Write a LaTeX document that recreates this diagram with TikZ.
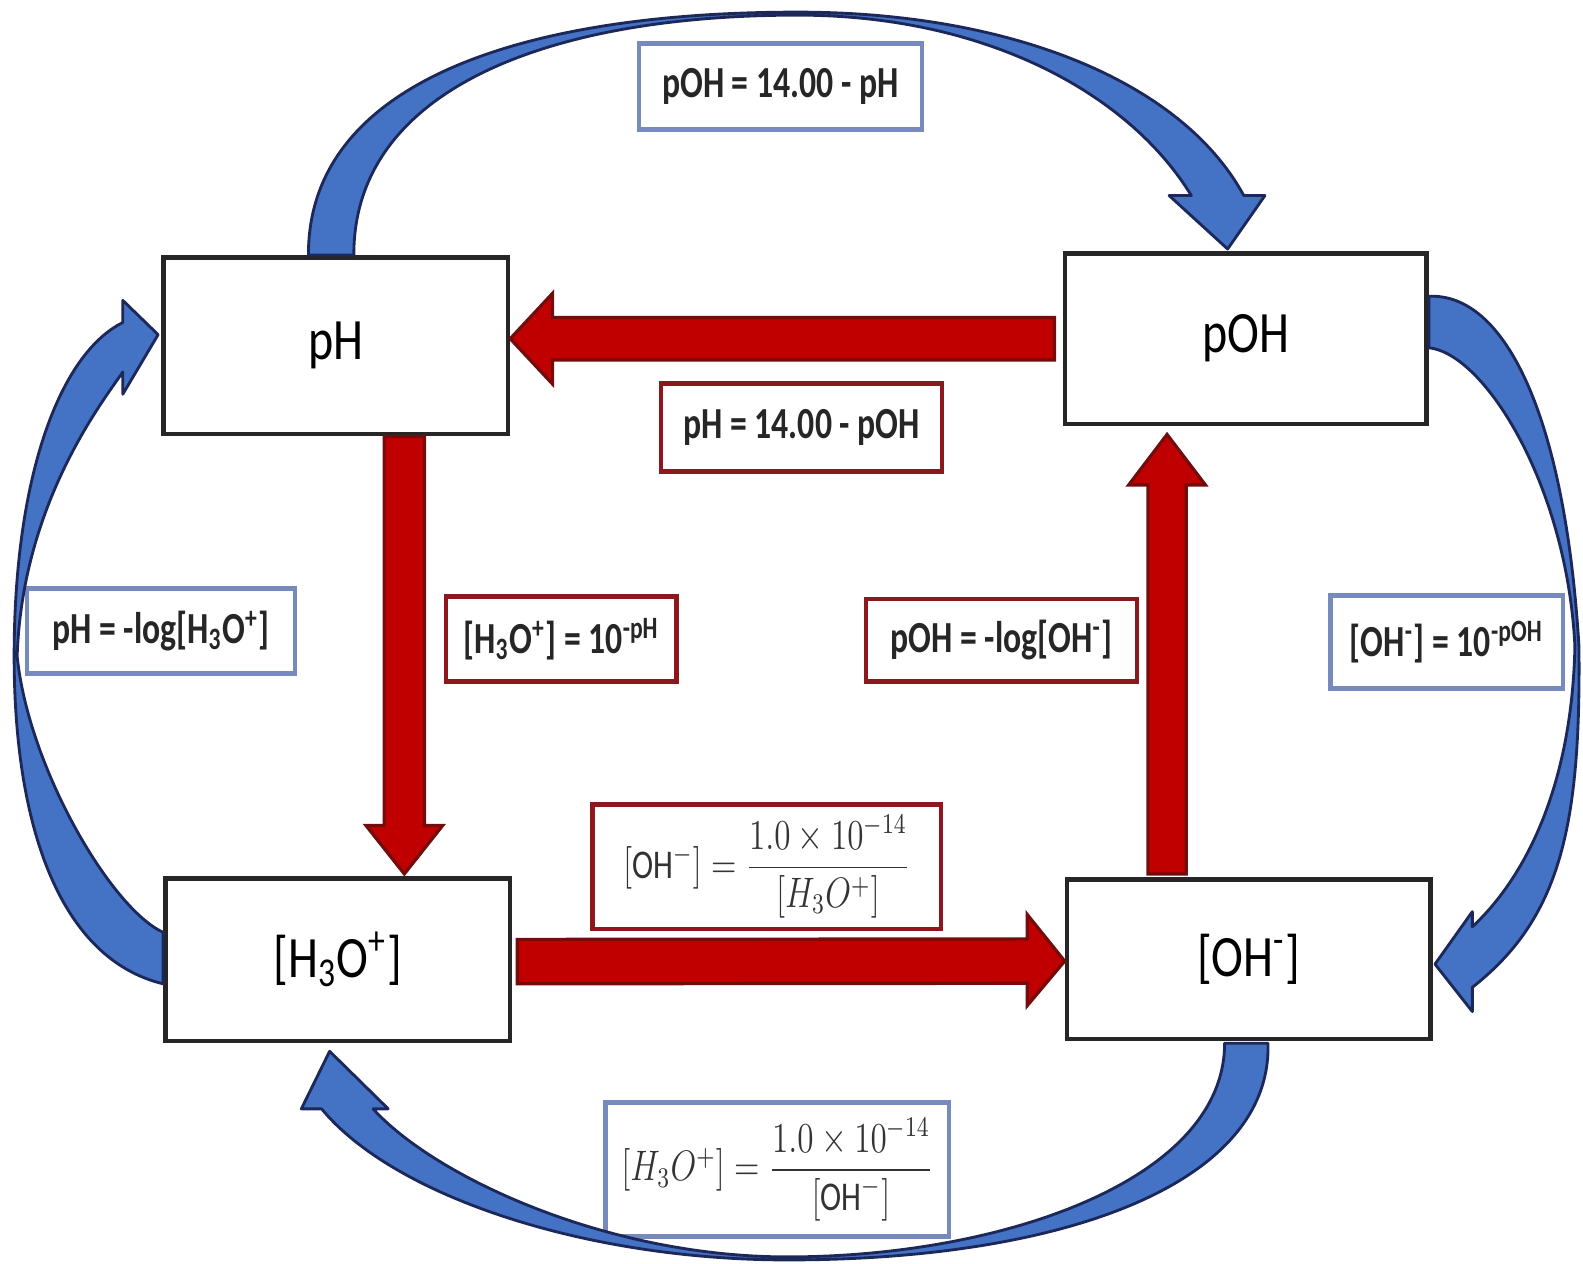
\documentclass[tikz,border=0pt]{standalone}
\usepackage{fontspec}
\usepackage{amsmath}
\usepackage{graphicx}
\setmainfont{Carlito}
\newfontfamily\boxfont{Carlito}[FakeStretch=0.82]
\newfontfamily\lblfont{Carlito}[FakeStretch=0.76]
\usetikzlibrary{calc}

\definecolor{arrowblue}{RGB}{68,114,196}
\definecolor{edgeblue}{RGB}{28,40,90}
\definecolor{arrowred}{RGB}{192,0,0}
\definecolor{edgered}{RGB}{115,12,12}
\definecolor{lblblue}{RGB}{118,138,190}
\definecolor{lblred}{RGB}{140,24,30}

\tikzset{
  conc/.style={draw=black!85, line width=1.3pt, fill=white, inner sep=0pt,
    font=\boxfont\fontsize{16.5}{19}\selectfont},
  bluelbl/.style={draw=lblblue, line width=1.3pt, fill=white, inner sep=0pt, text=black!85,
    font=\lblfont\bfseries\fontsize{12.5}{15}\selectfont},
  redlbl/.style={draw=lblred, line width=1.2pt, fill=white, inner sep=0pt, text=black!85,
    font=\lblfont\bfseries\fontsize{12.5}{15}\selectfont},
  fraclbl/.style={text=black!80, font=\fontsize{11.5}{14}\selectfont},
  bluearrow/.style={fill=arrowblue, draw=edgeblue, line width=0.8pt, line join=round},
  redarrow/.style={fill=arrowred, draw=edgered, line width=0.9pt},
}

\begin{document}
\begin{tikzpicture}[x=0.01cm, y=-0.01cm]
\useasboundingbox (0,0) rectangle (1568,1252);

% the four quantities
\node[conc, minimum width=3.41cm, minimum height=1.75cm] (pH) at (332.5,342.5) {pH};
\node[conc, minimum width=3.58cm, minimum height=1.69cm] (pOH) at (1234,335.5) {pOH};
\node[conc, minimum width=3.41cm, minimum height=1.61cm] (h3o) at (334.5,950.5) {[H\textsubscript{3}O\textsuperscript{+}]};
\node[conc, minimum width=3.60cm, minimum height=1.58cm] (OHm) at (1237,950) {[OH\textsuperscript{-}]};

% outer relations
\node[bluelbl, minimum width=2.80cm, minimum height=0.85cm] (lbTop) at (773,85.5) {pOH = 14.00 - pH};
\node[bluelbl, minimum width=2.65cm, minimum height=0.84cm] (lbLeft) at (159.5,625) {pH = -log[H\textsubscript{3}O\textsuperscript{+}]};
\node[bluelbl, minimum width=2.30cm, minimum height=0.92cm] (lbRight) at (1433,636) {[OH\textsuperscript{-}] = 10\textsuperscript{-pOH}};
\node[bluelbl, fraclbl, minimum width=3.40cm, minimum height=1.33cm] (lbBottom) at (770,1158.5)
  {\scalebox{0.78}[1]{$[H_3O^{+}] = \dfrac{1.0\times10^{-14}}{[\mathrm{OH}^{-}]}$}};

% inner relations
\node[redlbl, minimum width=2.78cm, minimum height=0.87cm] (lbMidTop) at (794,423.5) {pH = 14.00 - pOH};
\node[redlbl, minimum width=2.28cm, minimum height=0.84cm] (lbMidLeft) at (556,633) {[H\textsubscript{3}O\textsuperscript{+}] = 10\textsuperscript{-pH}};
\node[redlbl, minimum width=2.68cm, minimum height=0.82cm] (lbMidRight) at (992,634) {pOH = -log[OH\textsuperscript{-}]};
\node[redlbl, fraclbl, minimum width=3.45cm, minimum height=1.23cm] (lbMidBot) at (759.5,858.5)
  {\scalebox{0.78}[1]{$[\mathrm{OH}^{-}] = \dfrac{1.0\times10^{-14}}{[H_3O^{+}]}$}};

% red block arrows
\draw[redarrow] (pH.east |- pOH.west) -- ++(42,-45) -- ++(0,24) -- ($(pOH.west)+(-8,-21)$)
  -- ++(0,42) -- ($(pH.east |- pOH.west)+(42,21)$) -- ++(0,24) -- cycle;
\draw[redarrow] ($(h3o.north)+(66,-2)$) -- ++(-38,-48) -- ++(18,0) -- ($(pH.south)+(48,0)$)
  -- ++(40,0) -- ($(h3o.north)+(86,-50)$) -- ++(18,0) -- cycle;
\draw[redarrow] ($(OHm.west)+(0,2)$) -- ++(-37,-46) -- ++(0,24) -- ($(h3o.east)+(5,-20)$)
  -- ++(0,44) -- ($(OHm.west)+(-37,24)$) -- ++(0,22) -- cycle;
\draw[redarrow] ($(pOH.south)+(-78,8)$) -- ++(-38,50) -- ++(19,0) -- ($(OHm.north)+(-100,-3)$)
  -- ++(38,0) -- ($(pOH.south)+(-59,58)$) -- ++(19,0) -- cycle;

% blue curved arrows
\draw[bluearrow] ($(pH.north)+(-27,0)$) .. controls (305,80) and (520,12) .. (790,12)
  .. controls (1000,12) and (1170,80) .. ($(pOH.north)+(-2,-55)$) -- ++(21,0)
  -- ($(pOH.north)+(-18,-2)$) -- ++(-58,-53) -- ++(22,0)
  .. controls (1120,95) and (980,15) .. (790,15)
  .. controls (540,15) and (350,90) .. ($(pH.north)+(18,0)$) -- cycle;
\draw[bluearrow] ($(pOH.east)+(0,-42)$) .. controls (1490,290) and (1550,410) .. (1564,640)
  .. controls (1566,820) and (1545,910) .. ($(OHm.east)+(39,28)$) -- ++(0,24)
  -- ($(OHm.east)+(2,5)$) -- ++(37,-52) -- ++(0,15)
  .. controls (1510,870) and (1557,780) .. (1560,640)
  .. controls (1552,480) and (1470,350) .. ($(pOH.east)+(0,9)$) -- cycle;
\draw[bluearrow] ($(OHm.south)+(19,2)$) .. controls (1260,1170) and (1060,1248) .. (780,1248)
  .. controls (580,1248) and (390,1185) .. ($(h3o.south)+(-16,65)$) -- ++(-20,0)
  -- ($(h3o.south)+(-8,8)$) -- ++(58,57) -- ++(-15,0)
  .. controls (430,1165) and (600,1245) .. (780,1245)
  .. controls (990,1245) and (1213,1170) .. ($(OHm.south)+(-24,2)$) -- cycle;
\draw[bluearrow] ($(h3o.west)+(0,24)$) .. controls (60,950) and (14,820) .. (14,650)
  .. controls (14,470) and (60,350) .. ($(pH.west)+(-38,-23)$) -- ++(0,-22)
  -- ($(pH.west)+(-3,-11)$) -- ++(-35,59) -- ++(0,-22)
  .. controls (100,400) and (22,500) .. (17,650)
  .. controls (28,760) and (110,900) .. ($(h3o.west)+(0,-27)$) -- cycle;
\end{tikzpicture}
\end{document}
